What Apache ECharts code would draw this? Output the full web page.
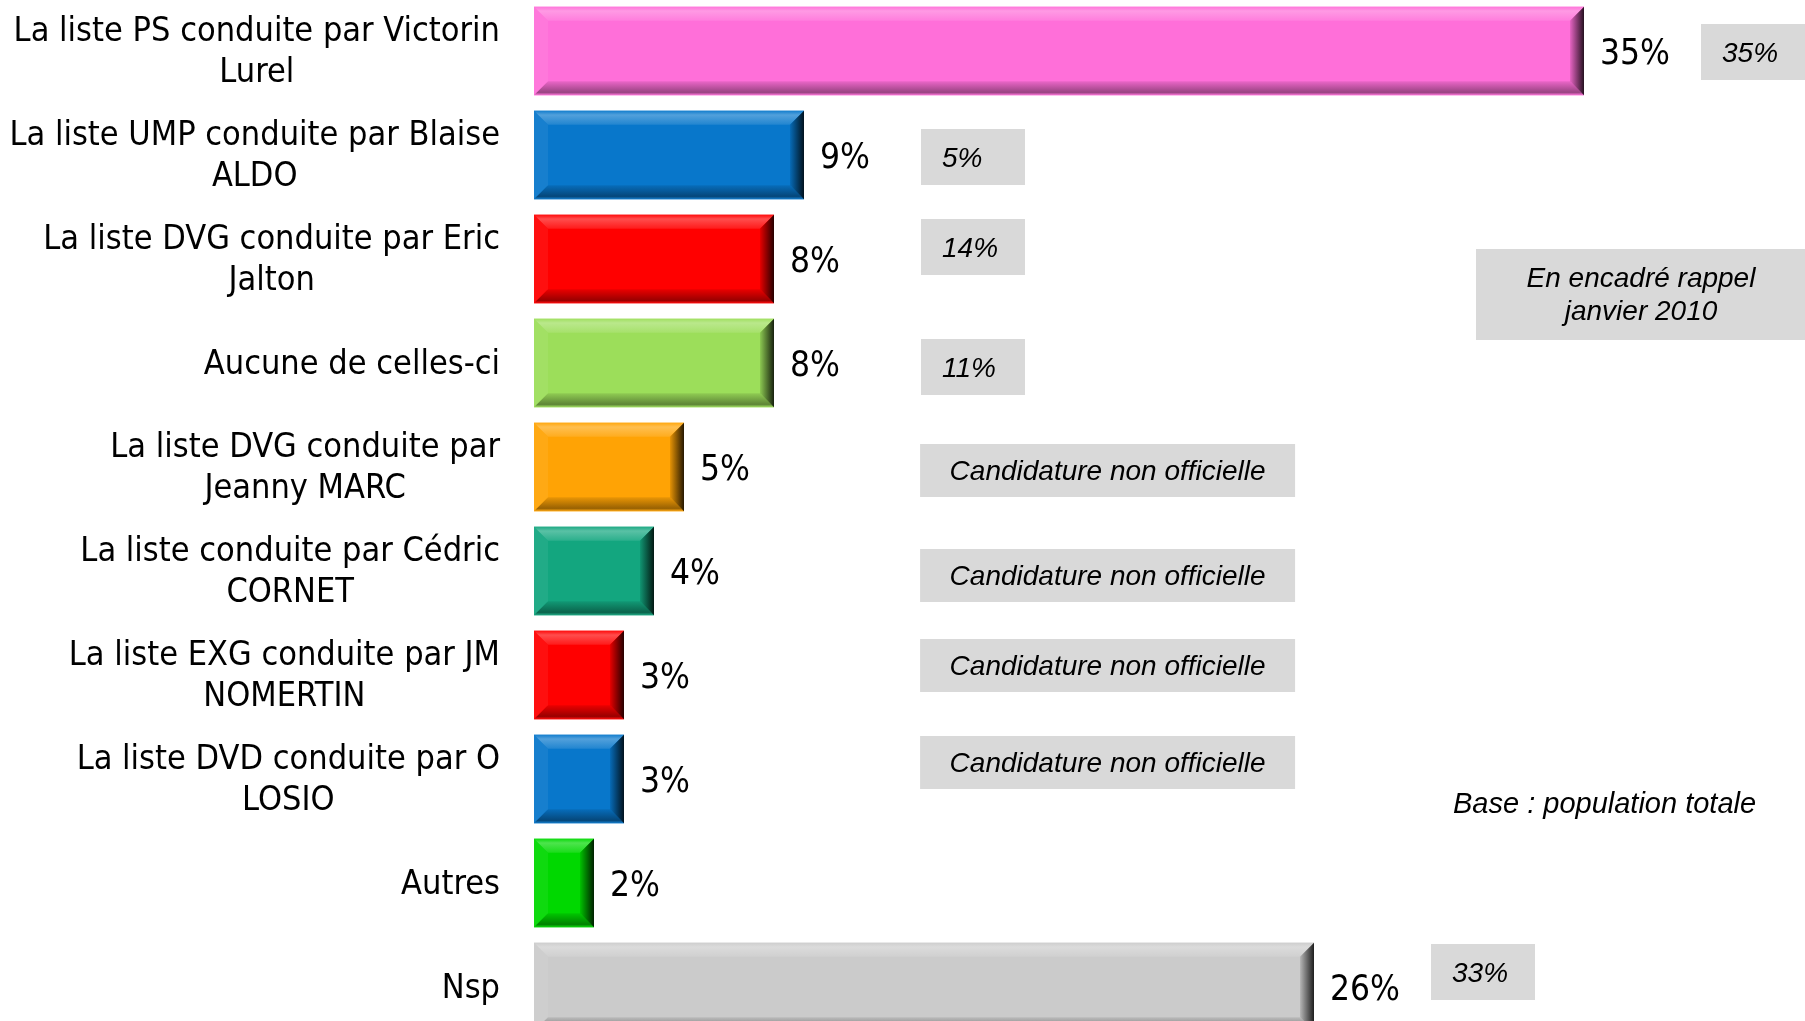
<!DOCTYPE html>
<html>
<head>
<meta charset="utf-8">
<script src="https://cdn.jsdelivr.net/npm/echarts@6/dist/echarts.min.js"></script>
<style>
  html, body { margin: 0; padding: 0; background: #fff; }
  #chart { width: 1805px; height: 1021px; }
</style>
</head>
<body>
<div id="chart"></div>
<script>
const categories = [
  'La liste PS conduite par Victorin\nLurel',
  'La liste UMP conduite par Blaise\nALDO',
  'La liste DVG conduite par Eric\nJalton',
  'Aucune de celles-ci',
  'La liste DVG conduite par\nJeanny MARC',
  'La liste conduite par Cédric\nCORNET',
  'La liste EXG conduite par JM\nNOMERTIN',
  'La liste DVD conduite par O\nLOSIO',
  'Autres',
  'Nsp'
];
const values = [35, 9, 8, 8, 5, 4, 3, 3, 2, 26];
// rappel janvier 2010 (encadrés gris)
const previous = ['35%', '5%', '14%', '11%',
  'Candidature non officielle', 'Candidature non officielle',
  'Candidature non officielle', 'Candidature non officielle',
  null, '33%'];

const barColors = ['#ff6fd9', '#0877cb', '#ff0000', '#9cde5a', '#ffa305',
  '#13a67f', '#ff0000', '#0877cb', '#00d800', '#cbcbcb'];

// where each recall box starts (axis units) and a small vertical nudge (px)
const boxStart = [38.9, 12.9, 12.9, 12.9, 12.87, 12.87, 12.87, 12.87, 0, 29.9];
const boxShift = [1, 2, -12, 4, 3.5, 4.5, -9.5, -16.5, 0, -15];

const mainFont = '"DejaVu Sans Condensed", Tahoma, sans-serif';
const italicFont = '"Liberation Sans", Arial, sans-serif';
const labelFont = '34px ' + mainFont;

const measureCtx = document.createElement('canvas').getContext('2d');
function blockWidth(text, font) {
  measureCtx.font = font;
  return Math.max.apply(null, text.split('\n').map(l => measureCtx.measureText(l).width));
}

function mix(hex, to, t) {
  const n = parseInt(hex.slice(1), 16);
  const rgb = [(n >> 16) & 255, (n >> 8) & 255, n & 255];
  const out = rgb.map((c, k) => Math.round(c + (to[k] - c) * t));
  return 'rgb(' + out.join(',') + ')';
}
const lighten = (c, t) => mix(c, [255, 255, 255], t);
const darken = (c, t) => mix(c, [0, 0, 0], t);

function renderBar(params, api) {
  const i = params.dataIndex;
  const start = api.coord([0, i]);
  const end = api.coord([api.value(0), i]);
  const h = api.size([0, 1])[1] * 0.85;
  const x0 = start[0], x1 = end[0];
  const y0 = start[1] - h / 2, y1 = start[1] + h / 2;
  const b = Math.min(14, (x1 - x0) / 4);
  const c = barColors[i];
  return {
    type: 'group',
    children: [
      { type: 'rect', shape: { x: x0, y: y0, width: x1 - x0, height: h }, style: { fill: c } },
      { type: 'polygon', shape: { points: [[x0, y0], [x0 + b, y0 + b], [x0 + b, y1 - b], [x0, y1]] },
        style: { fill: lighten(c, 0.06) } },
      { type: 'polygon', shape: { points: [[x0, y0], [x1, y0], [x1 - b, y0 + b], [x0 + b, y0 + b]] },
        style: { fill: new echarts.graphic.LinearGradient(0, 0, 0, 1, [
          { offset: 0, color: lighten(c, 0.05) },
          { offset: 0.3, color: lighten(c, 0.3) },
          { offset: 1, color: lighten(c, 0.1) }
        ]) } },
      { type: 'polygon', shape: { points: [[x0, y1], [x1, y1], [x1 - b, y1 - b], [x0 + b, y1 - b]] },
        style: { fill: new echarts.graphic.LinearGradient(0, 0, 0, 1, [
          { offset: 0, color: darken(c, 0.08) },
          { offset: 0.8, color: darken(c, 0.4) },
          { offset: 1, color: lighten(c, 0.05) }
        ]) } },
      { type: 'polygon', shape: { points: [[x1, y0], [x1 - b, y0 + b], [x1 - b, y1 - b], [x1, y1]] },
        style: { fill: new echarts.graphic.LinearGradient(0, 0, 1, 0, [
          { offset: 0, color: darken(c, 0.1) },
          { offset: 1, color: darken(c, 0.85) }
        ]) } },
      { type: 'text', style: {
          text: api.value(0) + '%', x: x1 + 16, y: start[1] + 4,
          align: 'left', verticalAlign: 'middle',
          font: '35px ' + mainFont, fill: '#000'
        } }
    ]
  };
}

// category names: block right-aligned against the bars, lines centred inside it
function renderName(params, api) {
  const i = params.dataIndex;
  const p = api.coord([0, i]);
  const w = blockWidth(categories[i], labelFont);
  return {
    type: 'text',
    style: {
      text: categories[i], x: p[0] - 34 - w / 2, y: p[1] + 2,
      align: 'center', verticalAlign: 'middle',
      font: labelFont, lineHeight: 41, fill: '#000'
    }
  };
}

function renderBox(params, api) {
  const i = params.dataIndex;
  const txt = previous[i];
  if (!txt) return null;
  const p = api.coord([boxStart[i], i]);
  const long = txt.length > 5;
  const w = long ? 375 : 104, h = long ? 53 : 56;
  const y = p[1] + boxShift[i] - h / 2;
  return {
    type: 'group',
    children: [
      { type: 'rect', shape: { x: p[0], y: y, width: w, height: h }, style: { fill: '#d9d9d9' } },
      { type: 'text', style: {
          text: txt, x: long ? p[0] + w / 2 : p[0] + 21, y: y + h / 2 + 2,
          align: long ? 'center' : 'left', verticalAlign: 'middle',
          font: 'italic 28px ' + italicFont, fill: '#000'
        } }
    ]
  };
}

const chart = echarts.init(document.getElementById('chart'));
chart.setOption({
  animation: false,
  grid: { left: 534, top: -1, width: 1260, height: 1040, outerBoundsMode: 'none' },
  xAxis: { type: 'value', min: 0, max: 42, show: false },
  yAxis: {
    type: 'category',
    data: categories,
    inverse: true,
    axisLine: { show: false },
    axisTick: { show: false },
    axisLabel: { show: false }
  },
  graphic: [
    { type: 'rect', left: 1476, top: 249, shape: { width: 329, height: 91 }, style: { fill: '#d9d9d9' } },
    { type: 'text', x: 1641, y: 296, style: {
        text: 'En encadré rappel\njanvier 2010', align: 'center', verticalAlign: 'middle',
        font: 'italic 28px ' + italicFont, lineHeight: 33, fill: '#000'
      } },
    { type: 'text', x: 1453, y: 805, style: {
        text: 'Base : population totale', align: 'left', verticalAlign: 'middle',
        font: 'italic 29px ' + italicFont, fill: '#000'
      } }
  ],
  series: [
    {
      type: 'custom',
      renderItem: renderName,
      data: categories.map((c, i) => [0, i]),
      encode: { x: 0, y: 1 }
    },
    {
      type: 'custom',
      renderItem: renderBar,
      data: values.map((v, i) => [v, i]),
      encode: { x: 0, y: 1 }
    },
    {
      type: 'custom',
      renderItem: renderBox,
      data: boxStart.map((s, i) => [s, i]),
      encode: { x: 0, y: 1 }
    }
  ]
});
</script>
</body>
</html>
